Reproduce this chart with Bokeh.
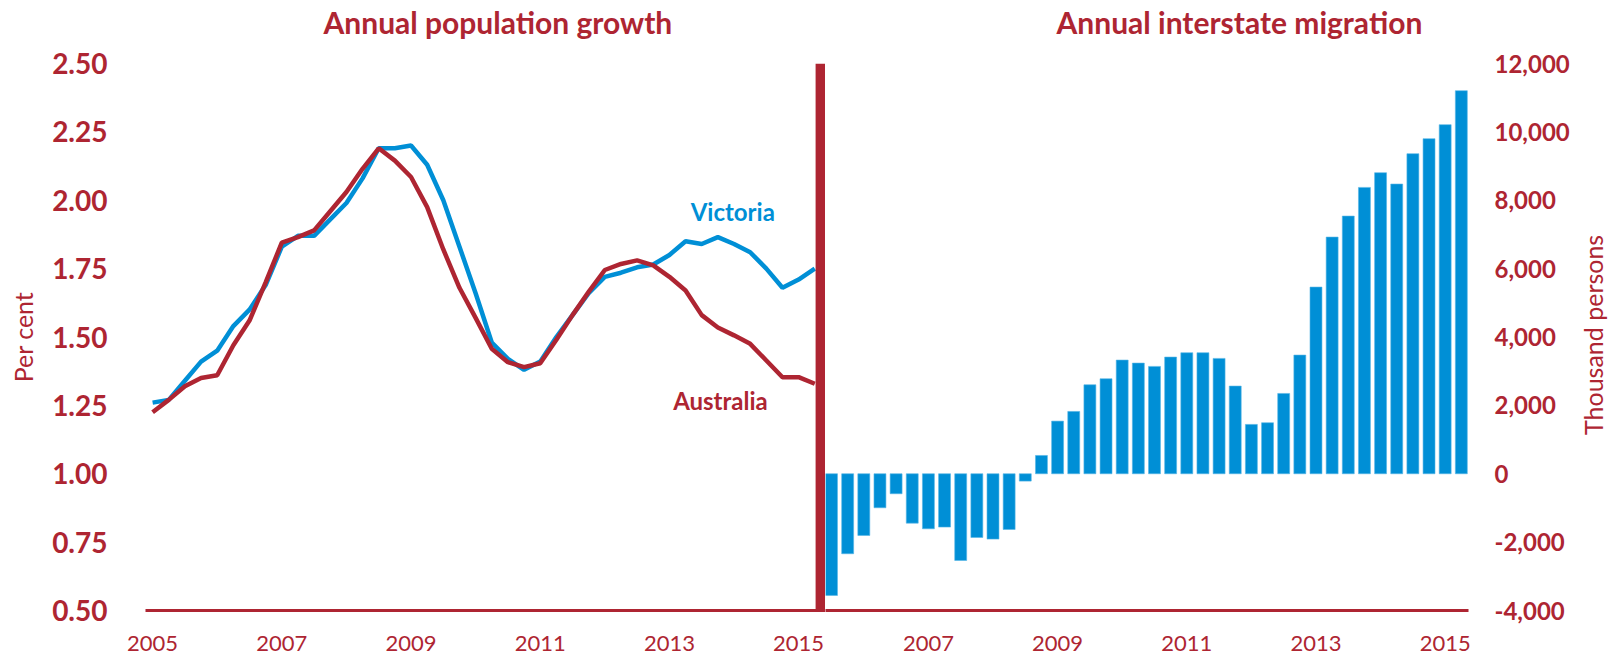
import math
from bokeh.plotting import figure
from bokeh.layouts import row
from bokeh.models import Range1d, FixedTicker, NumeralTickFormatter, Label, Title
from bokeh.embed import file_html
from bokeh.resources import INLINE

# ---------------- data ----------------
# Annual population growth (per cent), quarterly Mar-2005 .. Jun-2015
growth_quarters = [2005 + 0.25 * i for i in range(42)]
victoria = [1.26, 1.27, 1.34, 1.41, 1.45, 1.54, 1.60, 1.69, 1.83, 1.87,
            1.87, 1.93, 1.99, 2.08, 2.19, 2.19, 2.20, 2.13, 2.00, 1.83,
            1.66, 1.48, 1.42, 1.38, 1.41, 1.50, 1.58, 1.66, 1.72, 1.735,
            1.755, 1.765, 1.80, 1.85, 1.84, 1.865, 1.84, 1.81, 1.75, 1.68,
            1.71, 1.75]
australia = [1.225, 1.27, 1.32, 1.35, 1.36, 1.47, 1.56, 1.70, 1.845, 1.865,
             1.89, 1.96, 2.03, 2.115, 2.19, 2.145, 2.085, 1.975, 1.82, 1.68,
             1.57, 1.457, 1.408, 1.39, 1.404, 1.49, 1.58, 1.665, 1.745, 1.767,
             1.78, 1.762, 1.72, 1.67, 1.58, 1.535, 1.506, 1.475, 1.414, 1.353,
             1.353, 1.329]

# Annual interstate migration, Victoria (thousand persons), quarterly Sep-2005 .. Jun-2015
migration_quarters = [2005.5 + 0.25 * i for i in range(40)]
migration = [-3560, -2340, -1805, -995, -585, -1445, -1610, -1560, -2537, -1864,
             -1912, -1630, -215, 535, 1540, 1823, 2603, 2779, 3325, 3237,
             3140, 3413, 3540, 3540, 3374, 2564, 1443, 1492, 2349, 3471,
             5460, 6923, 7537, 8376, 8806, 8474, 9362, 9801, 10211, 11205]

left_ticks = [0.50, 0.75, 1.00, 1.25, 1.50, 1.75, 2.00, 2.25, 2.50]
right_ticks = [-4000, -2000, 0, 2000, 4000, 6000, 8000, 10000, 12000]
left_years = [2005, 2007, 2009, 2011, 2013, 2015]
right_years = [2007, 2009, 2011, 2013, 2015]

# ---------------- styling ----------------
RED = "#AE2532"
BLUE = "#008FD6"
FONT = "Lato"


def style_x(p, years):
    xa = p.xaxis[0]
    xa.ticker = FixedTicker(ticks=years)
    xa.formatter = NumeralTickFormatter(format="0")
    xa.axis_line_color = RED
    xa.axis_line_width = 3
    xa.major_tick_line_color = None
    xa.minor_tick_line_color = None
    xa.major_tick_out = 0
    xa.major_tick_in = 0
    xa.major_label_standoff = 25
    xa.major_label_text_font = FONT
    xa.major_label_text_font_size = "22px"
    xa.major_label_text_color = RED


def style_y(ax, size, standoff):
    ax.axis_line_color = None
    ax.major_tick_line_color = None
    ax.minor_tick_line_color = None
    ax.major_tick_out = 0
    ax.major_tick_in = 0
    ax.major_label_standoff = standoff
    ax.major_label_text_font = FONT
    ax.major_label_text_font_style = "bold"
    ax.major_label_text_font_size = size
    ax.major_label_text_color = RED
    ax.axis_label_text_font = FONT
    ax.axis_label_text_font_style = "normal"
    ax.axis_label_text_font_size = "25px"
    ax.axis_label_text_color = RED


def add_title(p, text, offset):
    # thin spacer between the frame and the title, then the title itself
    p.add_layout(Title(text="\u00a0", text_font_size="10px", standoff=9), "above")
    p.add_layout(Title(text=text, align="left", offset=offset, vertical_align="top",
                       standoff=0, text_font=FONT, text_font_style="bold",
                       text_font_size="30px", text_color=RED), "above")


# ---------------- left panel: population growth ----------------
p1 = figure(width=825, height=657, output_backend="svg", toolbar_location=None,
            title=None,
            x_range=Range1d(2004.89, 2015.416), y_range=Range1d(0.5, 2.5),
            min_border_left=145, min_border_right=0, min_border_top=63,
            min_border_bottom=47)
p1.outline_line_color = None
p1.grid.grid_line_color = None

p1.line(growth_quarters, victoria, line_color=BLUE, line_width=4.5)
p1.line(growth_quarters, australia, line_color=RED, line_width=4.5)

divider_x = growth_quarters[-1] + 0.09
p1.segment(x0=[divider_x], y0=[left_ticks[0]], x1=[divider_x], y1=[left_ticks[-1]],
           line_color=RED, line_width=10)

style_x(p1, left_years)
ya = p1.yaxis[0]
ya.ticker = FixedTicker(ticks=left_ticks)
ya.formatter = NumeralTickFormatter(format="0.00")
style_y(ya, "28px", 38)
ya.axis_label = "Per cent"
ya.axis_label_standoff = 11
add_title(p1, "Annual population growth", 178)

lab_kw = dict(text_align="center", text_baseline="middle", text_font=FONT,
              text_font_style="bold", text_font_size="24px")
p1.add_layout(Label(x=2013.98, y=1.96, text="Victoria", text_color=BLUE, **lab_kw))
p1.add_layout(Label(x=2013.79, y=1.268, text="Australia", text_color=RED, **lab_kw))

# ---------------- right panel: interstate migration ----------------
p2 = figure(width=748, height=657, output_backend="svg", toolbar_location=None,
            title=None,
            x_range=Range1d(2005.407, 2015.361), y_range=Range1d(-4000, 12000),
            y_axis_location="right",
            min_border_left=0, min_border_right=105, min_border_top=63,
            min_border_bottom=47)
p2.outline_line_color = None
p2.grid.grid_line_color = None

p2.vbar(x=migration_quarters, top=migration, bottom=0, width=0.185,
        fill_color=BLUE, line_color="#55B6E6", line_width=0.6)

style_x(p2, right_years)
ra = p2.yaxis[0]
ra.ticker = FixedTicker(ticks=right_ticks)
ra.formatter = NumeralTickFormatter(format="0,0")
style_y(ra, "24px", 26)
add_title(p2, "Annual interstate migration", 231)

# ---------------- strip holding the right-hand axis title ----------------
p3 = figure(width=35, height=657, output_backend="svg", toolbar_location=None,
            title=None, x_range=Range1d(0, 1), y_range=Range1d(0, 657),
            x_axis_location=None, y_axis_location=None, min_border=0)
p3.outline_line_color = None
p3.grid.grid_line_color = None
p3.add_layout(Label(x=0.571, y=331, text="Thousand persons", angle=math.pi / 2,
                    text_align="center", text_baseline="middle", text_font=FONT,
                    text_font_size="25px", text_color=RED))

layout = row(p1, p2, p3)
open("out.html", "w").write(file_html(layout, INLINE))
